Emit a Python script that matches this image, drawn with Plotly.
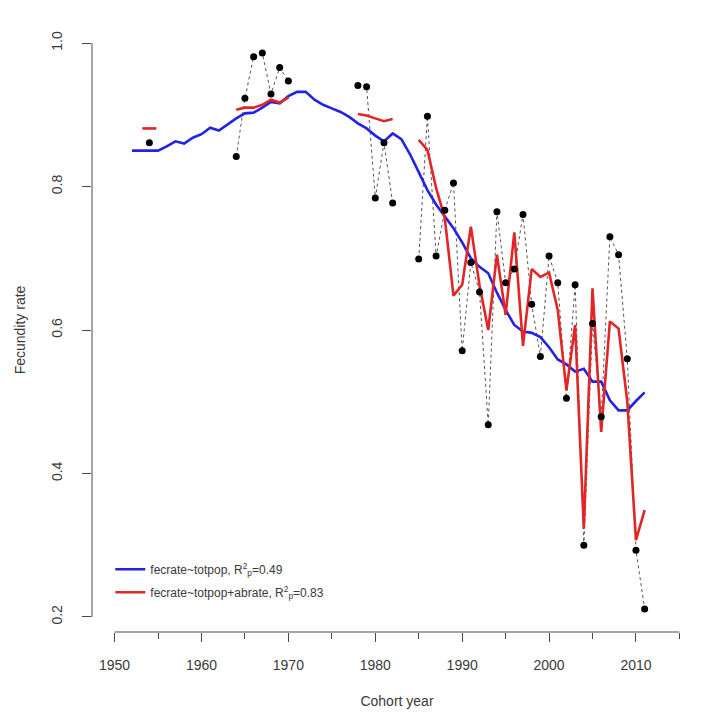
import plotly.graph_objects as go

# Cohort years and observed fecundity rate (None = no observation)
years = list(range(1952, 2012))

fecrate = [
    None, None, 0.861, None, None, None, None, None, None, None,   # 1952-1961
    None, None, 0.842, 0.923, 0.981, 0.986, 0.929, 0.966, 0.947, None,  # 1962-1971
    None, None, None, None, None, None, 0.941, 0.939, 0.784, 0.861,  # 1972-1981
    0.777, None, None, 0.699, 0.898, 0.703, 0.767, 0.805, 0.571, 0.694,  # 1982-1991
    0.653, 0.468, 0.765, 0.666, 0.685, 0.761, 0.636, 0.563, 0.703, 0.666,  # 1992-2001
    0.505, 0.663, 0.300, 0.609, 0.479, 0.730, 0.705, 0.560, 0.293, 0.211,  # 2002-2011
]

# Fitted values: fecrate ~ totpop
fit_totpop = [
    0.850, 0.850, 0.850, 0.850, 0.856, 0.863, 0.860, 0.868, 0.873, 0.882,  # 1952-1961
    0.878, 0.887, 0.895, 0.902, 0.903, 0.910, 0.918, 0.916, 0.926, 0.932,  # 1962-1971
    0.932, 0.921, 0.914, 0.909, 0.904, 0.897, 0.888, 0.881, 0.871, 0.863,  # 1972-1981
    0.874, 0.866, 0.845, 0.820, 0.795, 0.775, 0.758, 0.742, 0.722, 0.700,  # 1982-1991
    0.688, 0.679, 0.652, 0.628, 0.607, 0.598, 0.596, 0.590, 0.576, 0.559,  # 1992-2001
    0.552, 0.542, 0.546, 0.528, 0.528, 0.502, 0.488, 0.488, 0.501, 0.513,  # 2002-2011
]

# Fitted values: fecrate ~ totpop + abrate (None where abrate is missing)
fit_abrate = [
    None, None, 0.881, None, None, None, None, None, None, None,   # 1952-1961
    None, None, 0.907, 0.910, 0.910, 0.914, 0.921, 0.917, 0.924, None,  # 1962-1971
    None, None, None, None, None, None, 0.901, 0.899, 0.895, 0.891,  # 1972-1981
    0.894, None, None, 0.865, 0.851, 0.798, 0.756, 0.648, 0.663, 0.744,  # 1982-1991
    0.662, 0.600, 0.705, 0.621, 0.736, 0.578, 0.685, 0.674, 0.680, 0.628,  # 1992-2001
    0.516, 0.607, 0.323, 0.658, 0.458, 0.612, 0.602, 0.500, 0.307, 0.349,  # 2002-2011
]

x_major = list(range(1950, 2011, 10))
y_ticks = [0.2, 0.4, 0.6, 0.8, 1.0]

legend_labels = [
    "fecrate~totpop, R<sup>2</sup><sub>p</sub>=0.49",
    "fecrate~totpop+abrate, R<sup>2</sup><sub>p</sub>=0.83",
]

BLUE = "#2323e6"
RED = "#e02626"
AXIS = "#4a4a4a"
FONT = "Liberation Sans, Arial, sans-serif"

fig = go.Figure()

# observed series: dotted connector
fig.add_trace(go.Scatter(
    x=years, y=fecrate, mode="lines",
    line=dict(color="#555555", width=1, dash="dot"),
    connectgaps=False, showlegend=False, hoverinfo="skip",
))

fig.add_trace(go.Scatter(
    x=years, y=fit_totpop, mode="lines",
    line=dict(color=BLUE, width=2.6),
    name=legend_labels[0], legendgroup="totpop",
))

fig.add_trace(go.Scatter(
    x=years, y=fit_abrate, mode="lines",
    line=dict(color=RED, width=2.6),
    connectgaps=False, name=legend_labels[1], legendgroup="abrate",
))

# isolated fitted values (no neighbours) shown as short dashes
iso_x, iso_y = [], []
for i, v in enumerate(fit_abrate):
    prev_ok = i > 0 and fit_abrate[i - 1] is not None
    next_ok = i < len(fit_abrate) - 1 and fit_abrate[i + 1] is not None
    if v is not None and not prev_ok and not next_ok:
        iso_x.append(years[i])
        iso_y.append(v)
fig.add_trace(go.Scatter(
    x=iso_x, y=iso_y, mode="markers",
    marker=dict(symbol="line-ew", size=10, line=dict(color=RED, width=2.6)),
    showlegend=False, hoverinfo="skip",
))

# observed points
fig.add_trace(go.Scatter(
    x=years, y=fecrate, mode="markers",
    marker=dict(color="black", size=7),
    showlegend=False,
))

# R-style axis lines spanning only the tick range
fig.add_shape(type="line", xref="x", yref="paper", x0=1950, x1=2015, y0=0, y1=0,
              line=dict(color=AXIS, width=1))
fig.add_shape(type="line", xref="paper", yref="y", x0=0, x1=0, y0=0.2, y1=1.0,
              line=dict(color=AXIS, width=1))

fig.update_layout(
    width=709, height=719,
    margin=dict(l=92, r=7, t=28, b=87),
    plot_bgcolor="white", paper_bgcolor="white",
    font=dict(family=FONT, size=14, color="#3a3a3a"),
    xaxis=dict(
        range=[1947.4, 2017.6], showgrid=False, zeroline=False, showline=False,
        tickmode="array", tickvals=x_major, ticks="outside", ticklen=9,
        tickcolor=AXIS, tickwidth=1, ticklabelstandoff=11,
        minor=dict(tickmode="linear", tick0=1950, dtick=5, ticks="outside",
                   ticklen=6, tickcolor=AXIS, tickwidth=1, showgrid=False),
        title=dict(text="Cohort year", standoff=24, font=dict(size=14)),
    ),
    yaxis=dict(
        range=[0.179, 1.021], showgrid=False, zeroline=False, showline=False,
        tickmode="array", tickvals=y_ticks, tickformat=".1f",
        ticks="outside", ticklen=9, tickcolor=AXIS, tickwidth=1,
        tickangle=-90, ticklabelstandoff=14,
        title=dict(text="Fecundity rate", standoff=20, font=dict(size=14)),
    ),
    legend=dict(
        x=0.03, y=0.128, xanchor="left", yanchor="top",
        bgcolor="rgba(0,0,0,0)", font=dict(size=12, color="#3a3a3a"),
        itemwidth=30, traceorder="grouped", tracegroupgap=4,
    ),
)

fig.write_html("out.html")
